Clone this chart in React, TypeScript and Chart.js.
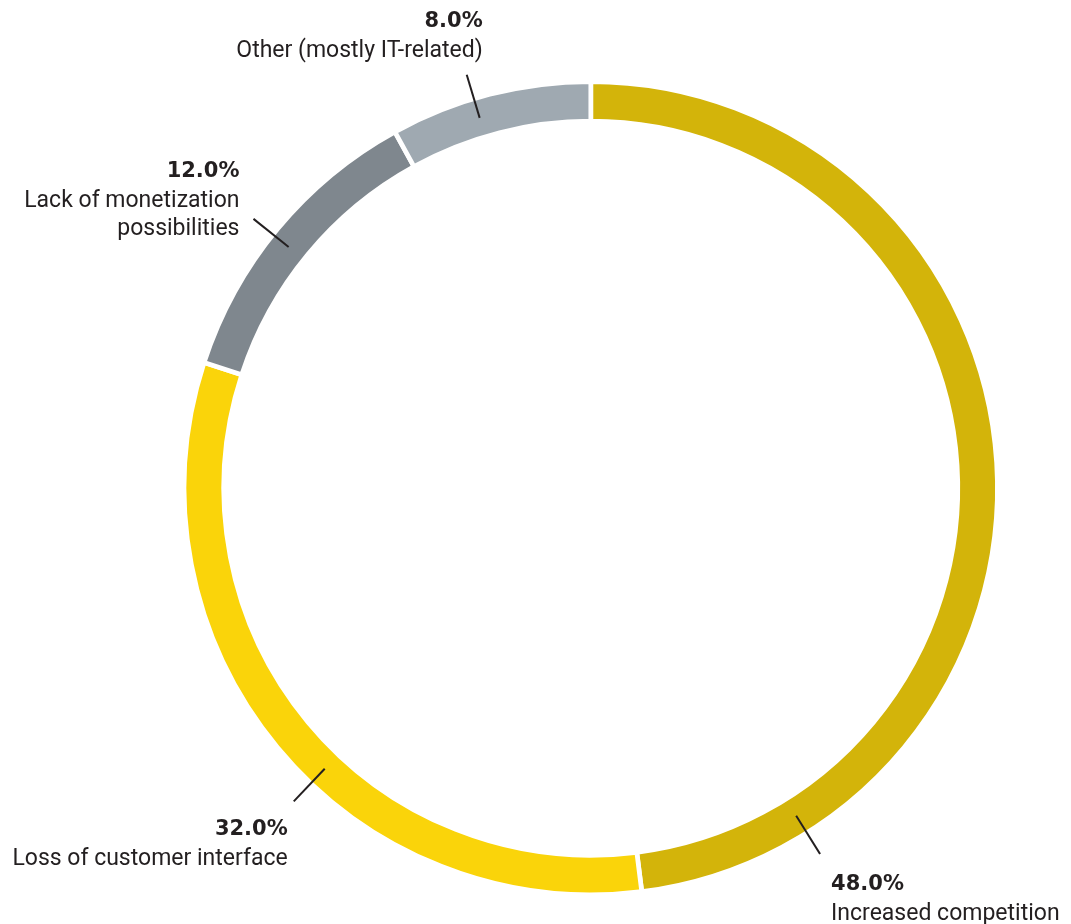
import React, { useEffect, useRef } from "react";
import { Chart, registerables } from "chart.js";

Chart.register(...registerables);

const categories = [
  "Increased competition",
  "Loss of customer interface",
  "Lack of monetization possibilities",
  "Other (mostly IT-related)",
];
const shares = [48.0, 32.0, 12.0, 8.0];
const labelLines = [
  ["Increased competition"],
  ["Loss of customer interface"],
  ["Lack of monetization", "possibilities"],
  ["Other (mostly IT-related)"],
];
const colors = ["#D3B40A", "#FAD40A", "#7F878E", "#9FA9B1"];

// label layout: position of leader line along the segment (0..1), text alignment and offset from the line's outer end
const labelLayout = [
  { along: 0.856, align: "left", dx: 11, dy: 36 },
  { along: 0.44, align: "right", dx: -6, dy: 34 },
  { along: 0.477, align: "right", dx: -14, dy: -42 },
  { along: 0.42, align: "right", dx: 16, dy: -48 },
];

const FONT = "Roboto, 'Noto Sans', sans-serif";
const BOLD_FONT = "'DejaVu Sans', Roboto, sans-serif";
const TEXT_COLOR = "#231F20";

const labelPlugin = {
  id: "leaderLabels",
  afterDatasetsDraw(chart: any) {
    const ctx = chart.ctx;
    const meta = chart.getDatasetMeta(0);
    ctx.save();
    meta.data.forEach((arc: any, i: number) => {
      const lay = labelLayout[i];
      const { x, y, startAngle, endAngle, outerRadius } = arc.getProps(
        ["x", "y", "startAngle", "endAngle", "outerRadius"],
        true
      );
      const a = startAngle + (endAngle - startAngle) * lay.along;
      const r1 = outerRadius - 20;
      const r2 = outerRadius + 25;
      const x1 = x + Math.cos(a) * r1;
      const y1 = y + Math.sin(a) * r1;
      const x2 = x + Math.cos(a) * r2;
      const y2 = y + Math.sin(a) * r2;
      ctx.strokeStyle = TEXT_COLOR;
      ctx.lineWidth = 2;
      ctx.beginPath();
      ctx.moveTo(x1, y1);
      ctx.lineTo(x2, y2);
      ctx.stroke();

      const tx = x2 + lay.dx;
      let ty = y2 + lay.dy;
      ctx.fillStyle = TEXT_COLOR;
      ctx.textAlign = lay.align;
      ctx.textBaseline = "alphabetic";
      ctx.font = `700 21px ${BOLD_FONT}`;
      ctx.fillText(`${shares[i].toFixed(1)}%`, tx, ty);
      ctx.font = `400 23px ${FONT}`;
      ty += 30;
      labelLines[i].forEach((line, k) => {
        ctx.fillText(line, tx, ty + k * 28.5);
      });
    });
    ctx.restore();
  },
};

export default function App() {
  const ref = useRef<HTMLCanvasElement>(null);
  useEffect(() => {
    if (!ref.current) return;
    const chart = new Chart(ref.current, {
      type: "doughnut",
      data: {
        labels: categories,
        datasets: [
          {
            data: shares,
            backgroundColor: colors,
            borderColor: "#FFFFFF",
            borderWidth: 4.7,
            hoverBorderWidth: 4.7,
          },
        ],
      },
      options: {
        responsive: false,
        animation: false,
        cutout: 367,
        rotation: 0,
        layout: { padding: { left: 181.8, right: 71.2, top: 79.2, bottom: 26.8 } },
        plugins: {
          legend: { display: false },
          tooltip: { enabled: false },
        },
      },
      plugins: [labelPlugin],
    });
    return () => chart.destroy();
  }, []);
  return (
    <div style={{ position: "absolute", left: 0, top: 0, width: 1071, height: 924, background: "#fff" }}>
      <canvas ref={ref} width={1071} height={924} style={{ width: 1071, height: 924 }} />
    </div>
  );
}
